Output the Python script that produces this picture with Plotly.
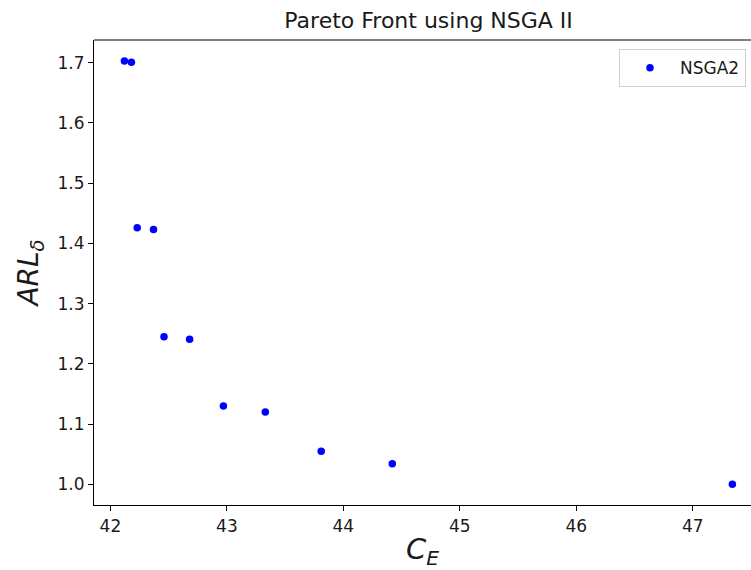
import plotly.graph_objects as go

# Pareto-optimal solutions found by NSGA-II
cost_e = [42.12, 42.18, 42.23, 42.37, 42.46, 42.68, 42.97, 43.33, 43.81, 44.42, 47.34]
arl_delta = [1.703, 1.701, 1.426, 1.423, 1.245, 1.241, 1.130, 1.120, 1.055, 1.034, 1.000]

y_ticks = [1.0, 1.1, 1.2, 1.3, 1.4, 1.5, 1.6, 1.7]
x_ticks = [42, 43, 44, 45, 46, 47]

font_family = "DejaVu Sans"

fig = go.Figure()
fig.add_trace(go.Scatter(
    x=cost_e, y=arl_delta, mode="markers", name="NSGA2",
    marker=dict(color="#0000ff", size=7.5, line=dict(width=0)),
))

fig.update_layout(
    width=751, height=570,
    margin=dict(l=94, r=0, t=40, b=65, pad=0),
    paper_bgcolor="white", plot_bgcolor="white",
    font=dict(family=font_family, color="#1a1a1a", size=17),
    title=dict(text="Pareto Front using NSGA II", x=428.6 / 751, xanchor="center",
               y=1 - 20 / 570, yanchor="middle", font=dict(size=22)),
    showlegend=True,
    legend=dict(x=(619 - 94) / 657, y=0.98, xanchor="left", yanchor="top",
                bordercolor="#d0d0d0", borderwidth=1, bgcolor="white",
                font=dict(size=17), itemwidth=50),
    xaxis=dict(range=[41.859, 47.500], tickvals=x_ticks, ticktext=[str(t) for t in x_ticks],
               showgrid=False, zeroline=False, showline=True, linecolor="black", linewidth=1.2,
               ticks="outside", ticklen=5, tickwidth=1, tickcolor="black",
               title=dict(text="<i>C</i><sub><i>E</i></sub>", font=dict(size=29), standoff=4)),
    yaxis=dict(range=[0.9657, 1.7378], tickvals=y_ticks, ticktext=[f"{t:.1f}" for t in y_ticks],
               showgrid=False, zeroline=False, showline=True, linecolor="black", linewidth=1.2,
               ticks="outside", ticklen=5, tickwidth=1, tickcolor="black",
               title=dict(text="<i>ARL</i><sub><i>δ</i></sub>", font=dict(size=28), standoff=10)),
)

# top spine of the axes frame
fig.add_shape(type="line", xref="paper", yref="paper", x0=0, x1=1, y0=1, y1=1,
              line=dict(color="black", width=1.2))

fig.write_html("out.html")
